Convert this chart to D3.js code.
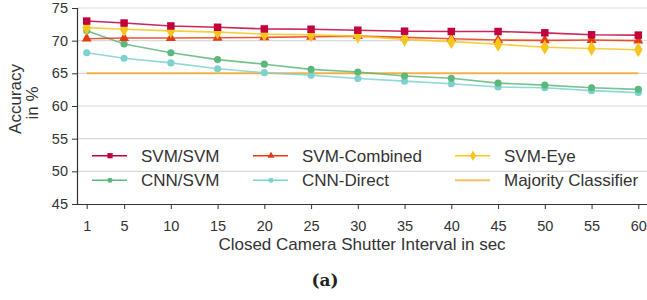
<!DOCTYPE html>
<html><head><meta charset="utf-8">
<script src="https://cdn.jsdelivr.net/npm/d3@7"></script>
<style>body{margin:0;background:#fff}svg{display:block}</style>
</head><body>
<svg id="c" width="647" height="300"></svg>
<script>
const intervals = [1,5,10,15,20,25,30,35,40,45,50,55,60];
const svmSvm      = [73.0,72.7,72.25,72.05,71.8,71.75,71.6,71.45,71.4,71.4,71.2,70.9,70.85];
const svmCombined = [70.3,70.4,70.4,70.45,70.5,70.6,70.7,70.5,70.3,70.1,70.05,70.1,70.0];
const svmEye      = [72.0,71.75,71.5,71.3,71.0,70.9,70.7,70.2,69.85,69.45,69.0,68.8,68.6];
const cnnSvm      = [71.5,69.5,68.15,67.1,66.4,65.6,65.2,64.6,64.25,63.5,63.2,62.8,62.55];
const cnnDirect   = [68.15,67.3,66.6,65.7,65.1,64.7,64.2,63.8,63.4,62.9,62.8,62.35,62.05];
const majority    = [65.0,65.0,65.0,65.0,65.0,65.0,65.0,65.0,65.0,65.0,65.0,65.0,65.0];
const yTicks = [45,50,55,60,65,70,75];
const xTicks = intervals;

const series = [
  {name:"SVM/SVM", values:svmSvm, color:"#c2003c", marker:"square"},
  {name:"SVM-Combined", values:svmCombined, color:"#e63a12", marker:"triangle"},
  {name:"SVM-Eye", values:svmEye, color:"#f8c51c", marker:"diamond"},
  {name:"CNN/SVM", values:cnnSvm, color:"#5cb87a", marker:"circle"},
  {name:"CNN-Direct", values:cnnDirect, color:"#7cd2cf", marker:"circle"},
  {name:"Majority Classifier", values:majority, color:"#f5a82a", marker:null}
];

const svg = d3.select("#c");
const font = "'Liberation Sans', Arial, sans-serif";
const x = d3.scaleLinear().domain([1,60]).range([86.7,638.3]);
const y = d3.scaleLinear().domain([45,75]).range([204,8]);

// gridlines
svg.append("g").selectAll("line").data(yTicks.filter(d=>d>45)).join("line")
  .attr("x1",77).attr("x2",647).attr("y1",d=>y(d)).attr("y2",d=>y(d))
  .attr("stroke","#d9d9d9").attr("stroke-width",1.2);

// axes
const yAxis = svg.append("g").attr("transform","translate(77,0)")
  .call(d3.axisLeft(y).tickValues(yTicks).tickSize(5).tickPadding(4));
yAxis.select(".domain").attr("stroke","#333").attr("stroke-width",1.2);
yAxis.selectAll(".tick line").attr("stroke","#333");
yAxis.selectAll("text").attr("font-family",font).attr("font-size",14.5).attr("fill","#333");

const xAxis = svg.append("g").attr("transform","translate(0,204)")
  .call(d3.axisBottom(x).tickValues(xTicks).tickSize(5).tickPadding(12).tickSizeOuter(0));
xAxis.select(".domain").attr("d","M77,0.5H647").attr("stroke","#333").attr("stroke-width",1.2);
xAxis.selectAll(".tick line").attr("stroke","#333");
xAxis.selectAll("text").attr("font-family",font).attr("font-size",14.5).attr("fill","#333");

// axis titles
svg.append("text").attr("transform","translate(21,99) rotate(-90)").attr("text-anchor","middle")
  .attr("font-family",font).attr("font-size",17).attr("fill","#333").text("Accuracy");
svg.append("text").attr("transform","translate(38,103) rotate(-90)").attr("text-anchor","middle")
  .attr("font-family",font).attr("font-size",17).attr("fill","#333").text("in %");
svg.append("text").attr("x",362).attr("y",250).attr("text-anchor","middle")
  .attr("font-family",font).attr("font-size",17).attr("fill","#333").text("Closed Camera Shutter Interval in sec");
svg.append("text").attr("x",325).attr("y",286).attr("text-anchor","middle")
  .attr("font-family","'DejaVu Serif', serif").attr("font-weight","bold").attr("font-size",17).attr("fill","#222").text("(a)");

function symbolFor(m, big){
  const s = big ? 1 : 0.7;
  if(m==="square") return d3.symbol(d3.symbolSquare, 56*s*s)();
  if(m==="triangle") return d3.symbol(d3.symbolTriangle, 44*s*s)();
  if(m==="diamond") return d3.symbol(d3.symbolDiamond, 64*s*s)();
  if(m==="circle") return d3.symbol(d3.symbolCircle, 40*s*s)();
  return null;
}

const line = d3.line().x((d,i)=>x(intervals[i])).y(d=>y(d));
const drawOrder = [5,4,3,1,2,0];
drawOrder.forEach(k=>{
  const s = series[k];
  svg.append("path").datum(s.values).attr("d",line).attr("fill","none")
    .attr("stroke",s.color).attr("stroke-width",s.marker?1.6:2).attr("stroke-opacity",0.85);
  if(s.marker){
    svg.append("g").selectAll("path").data(s.values).join("path")
      .attr("transform",(d,i)=>`translate(${x(intervals[i])},${y(d)})`)
      .attr("d",symbolFor(s.marker,true)).attr("fill",s.color);
  }
});

// legend
const legPos = [[92,155.7],[253,155.7],[455,155.7],[92,180.3],[253,180.3],[455,180.3]];
series.forEach((s,j)=>{
  const [lx,ly] = legPos[j];
  const g = svg.append("g").attr("transform",`translate(${lx},${ly})`);
  g.append("line").attr("x1",0).attr("x2",35).attr("stroke",s.color)
    .attr("stroke-width",s.marker?1.5:2).attr("stroke-opacity",s.marker?1:0.75);
  if(s.marker) g.append("path").attr("transform","translate(18,0)").attr("d",symbolFor(s.marker,false)).attr("fill",s.color);
  g.append("text").attr("x",49).attr("y",6).attr("font-family",font).attr("font-size",17)
    .attr("fill","#333").text(s.name);
});
</script>
</body></html>
